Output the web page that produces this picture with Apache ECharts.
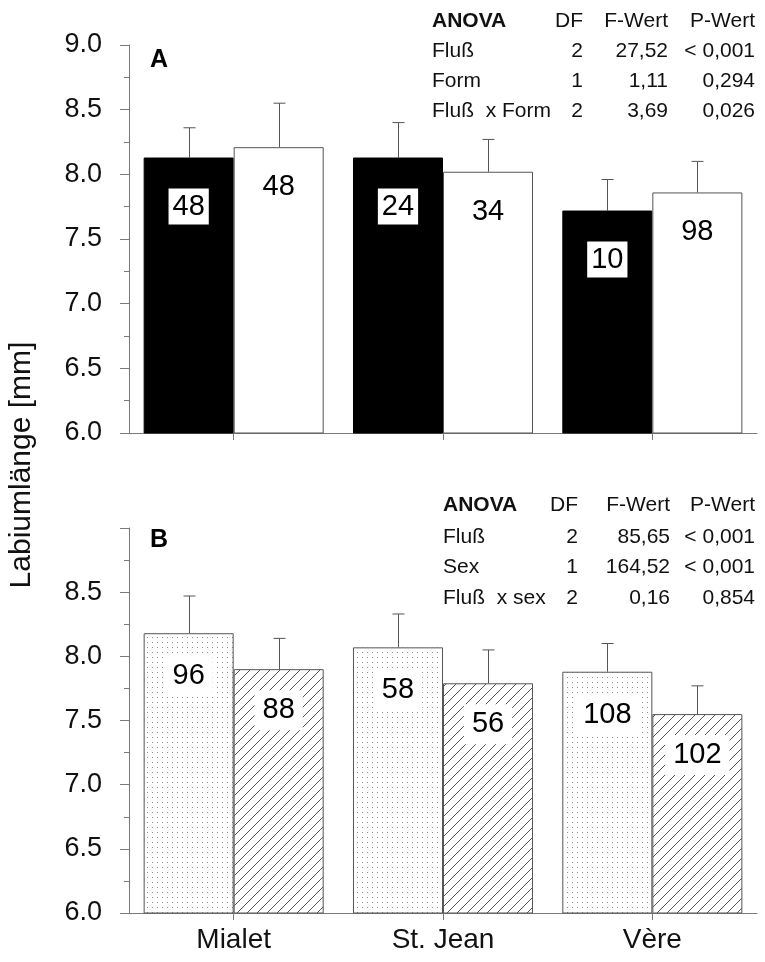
<!DOCTYPE html>
<html>
<head>
<meta charset="utf-8">
<script src="https://cdn.jsdelivr.net/npm/echarts@6/dist/echarts.min.js"></script>
<style>
  html, body { margin: 0; padding: 0; background: #fff; }
  #chart { width: 765px; height: 962px; }
</style>
</head>
<body>
<div id="chart"></div>
<script>
var categories = ['Mialet', 'St. Jean', 'Vère'];

// Panel A: two forms
var formBlack = [8.13, 8.13, 7.72];
var formBlackSd = [0.23, 0.27, 0.24];
var formBlackN = [48, 24, 10];
var formWhite = [8.21, 8.02, 7.86];
var formWhiteSd = [0.34, 0.25, 0.24];
var formWhiteN = [48, 34, 98];

// Panel B: two sexes
var sexDotted = [8.18, 8.07, 7.88];
var sexDottedSd = [0.29, 0.26, 0.22];
var sexDottedN = [96, 58, 108];
var sexHatched = [7.90, 7.79, 7.55];
var sexHatchedSd = [0.24, 0.26, 0.22];
var sexHatchedN = [88, 56, 102];

var yTicksA = [6.0, 6.5, 7.0, 7.5, 8.0, 8.5, 9.0];
var yTicksB = [6.0, 6.5, 7.0, 7.5, 8.0, 8.5];

var anovaHeader = ['ANOVA', 'DF', 'F-Wert', 'P-Wert'];
var anovaA = [
  ['Fluß', '2', '27,52', '< 0,001'],
  ['Form', '1', '1,11', '0,294'],
  ['Fluß  x Form', '2', '3,69', '0,026']
];
var anovaB = [
  ['Fluß', '2', '85,65', '< 0,001'],
  ['Sex', '1', '164,52', '< 0,001'],
  ['Fluß  x sex', '2', '0,16', '0,854']
];

var font = 'Liberation Sans, Arial, sans-serif';
var axisGray = '#7a7a7a';
var barEdge = '#555';

function makeDots() {
  var c = document.createElement('canvas');
  c.width = 5; c.height = 5;
  var g = c.getContext('2d');
  g.fillStyle = '#fff'; g.fillRect(0, 0, 5, 5);
  g.fillStyle = '#8c8c8c'; g.fillRect(2, 2, 1, 1);
  return c;
}

function makeHatch() {
  var s = 10;
  var c = document.createElement('canvas');
  c.width = s; c.height = s;
  var g = c.getContext('2d');
  g.fillStyle = '#fff'; g.fillRect(0, 0, s, s);
  g.strokeStyle = '#555'; g.lineWidth = 1;
  g.beginPath();
  g.moveTo(-1, s + 1); g.lineTo(s + 1, -1);
  g.moveTo(-2, 2); g.lineTo(2, -2);
  g.moveTo(s - 2, s + 2); g.lineTo(s + 2, s - 2);
  g.stroke();
  return c;
}

function pairs(values, sds) {
  return values.map(function(v, i) { return [i, v, sds[i]]; });
}

function errorSeries(axisIdx, values, sds, side) {
  return {
    type: 'custom',
    xAxisIndex: axisIdx,
    yAxisIndex: axisIdx,
    silent: true,
    z: 1,
    data: pairs(values, sds),
    renderItem: function(params, api) {
      var i = api.value(0);
      var base = api.coord([i, api.value(1)]);
      var top = api.coord([i, api.value(1) + api.value(2)]);
      var off = api.size([1, 0])[0] * 0.215 * side;
      var x = Math.round(base[0] + off) + 0.5;
      var st = { stroke: '#555', lineWidth: 1 };
      return {
        type: 'group',
        children: [
          { type: 'line', shape: { x1: x, y1: base[1], x2: x, y2: top[1] }, style: st },
          { type: 'line', shape: { x1: x - 6, y1: top[1], x2: x + 6, y2: top[1] }, style: st }
        ]
      };
    }
  };
}

function barLabel(ns, boxed, dist, pad) {
  return {
    show: true,
    position: 'insideTop',
    distance: dist,
    fontFamily: font,
    fontSize: 29,
    lineHeight: 30,
    color: '#000',
    backgroundColor: boxed ? '#fff' : 'transparent',
    padding: pad,
    formatter: function(p) { return String(ns[p.dataIndex]); }
  };
}

function yAxis(idx, ticks) {
  return {
    type: 'value',
    gridIndex: idx,
    min: 6,
    max: 9,
    interval: 0.5,
    axisLine: { show: true, lineStyle: { color: axisGray, width: 1 } },
    axisTick: { show: true, inside: false, length: 9, lineStyle: { color: axisGray } },
    minorTick: { show: true, splitNumber: 2, length: 5, lineStyle: { color: axisGray } },
    splitLine: { show: false },
    axisLabel: {
      margin: 27,
      fontFamily: font,
      fontSize: 27,
      color: '#111',
      formatter: function(v) {
        var hit = ticks.some(function(t) { return Math.abs(t - v) < 1e-6; });
        return hit ? v.toFixed(1) : '';
      }
    }
  };
}

function xAxis(idx, showLabels) {
  return {
    type: 'category',
    gridIndex: idx,
    data: categories,
    axisLine: { show: true, lineStyle: { color: axisGray, width: 1 } },
    axisTick: { show: true, alignWithLabel: true, length: 7, lineStyle: { color: axisGray } },
    axisLabel: { show: showLabels, margin: 13, fontFamily: font, fontSize: 28, color: '#111' }
  };
}

function tableGraphics(rows, left, xs, ys) {
  var out = [];
  var all = [anovaHeader].concat(rows);
  all.forEach(function(row, r) {
    row.forEach(function(cell, c) {
      out.push({
        type: 'text',
        x: c === 0 ? left : xs[c - 1],
        y: ys[r],
        style: {
          text: cell,
          font: (r === 0 && c === 0 ? 'bold ' : '') + '21px ' + font,
          fill: '#111',
          textAlign: c === 0 ? 'left' : 'right',
          textVerticalAlign: 'middle'
        }
      });
    });
  });
  return out;
}

var chart = echarts.init(document.getElementById('chart'), null, { renderer: 'canvas' });
var dots = makeDots();
var hatch = makeHatch();

var graphics = []
  .concat(tableGraphics(anovaA, 432, [583, 668, 755], [21, 51, 81, 111]))
  .concat(tableGraphics(anovaB, 443, [578, 670, 755], [505, 537, 567, 598]))
  .concat([
    { type: 'text', x: 150, y: 60, style: { text: 'A', font: 'bold 25px ' + font, fill: '#000', textVerticalAlign: 'middle' } },
    { type: 'text', x: 150, y: 540, style: { text: 'B', font: 'bold 25px ' + font, fill: '#000', textVerticalAlign: 'middle' } },
    { type: 'text', x: 22, y: 465, rotation: Math.PI / 2,
      style: { text: 'Labiumlänge [mm]', font: '30px ' + font, fill: '#111', textAlign: 'center', textVerticalAlign: 'middle' } }
  ]);

chart.setOption({
  animation: false,
  backgroundColor: '#fff',
  grid: [
    { left: 129, width: 628, top: 45, height: 388 },
    { left: 129, width: 628, top: 528, height: 385 }
  ],
  xAxis: [xAxis(0, false), xAxis(1, true)],
  yAxis: [yAxis(0, yTicksA), yAxis(1, yTicksB)],
  graphic: graphics,
  series: [
    {
      name: 'Form 1', type: 'bar', xAxisIndex: 0, yAxisIndex: 0,
      barWidth: '43%', barGap: '0%', z: 2,
      data: formBlack,
      itemStyle: { color: '#000', borderColor: '#000', borderWidth: 1 },
      label: barLabel(formBlackN, true, 31, [3, 4])
    },
    {
      name: 'Form 2', type: 'bar', xAxisIndex: 0, yAxisIndex: 0,
      barWidth: '43%', barGap: '0%', z: 2,
      data: formWhite,
      itemStyle: { color: '#fff', borderColor: barEdge, borderWidth: 1 },
      label: barLabel(formWhiteN, false, 25, [0, 0])
    },
    {
      name: 'Geschlecht 1', type: 'bar', xAxisIndex: 1, yAxisIndex: 1,
      barWidth: '43%', barGap: '0%', z: 2,
      data: sexDotted,
      itemStyle: { color: { image: dots, repeat: 'repeat' }, borderColor: barEdge, borderWidth: 1 },
      label: barLabel(sexDottedN, true, 23, [5, 8])
    },
    {
      name: 'Geschlecht 2', type: 'bar', xAxisIndex: 1, yAxisIndex: 1,
      barWidth: '43%', barGap: '0%', z: 2,
      data: sexHatched,
      itemStyle: { color: { image: hatch, repeat: 'repeat' }, borderColor: barEdge, borderWidth: 1 },
      label: barLabel(sexHatchedN, true, 21, [5, 8])
    },
    errorSeries(0, formBlack, formBlackSd, -1),
    errorSeries(0, formWhite, formWhiteSd, 1),
    errorSeries(1, sexDotted, sexDottedSd, -1),
    errorSeries(1, sexHatched, sexHatchedSd, 1)
  ]
});
</script>
</body>
</html>
